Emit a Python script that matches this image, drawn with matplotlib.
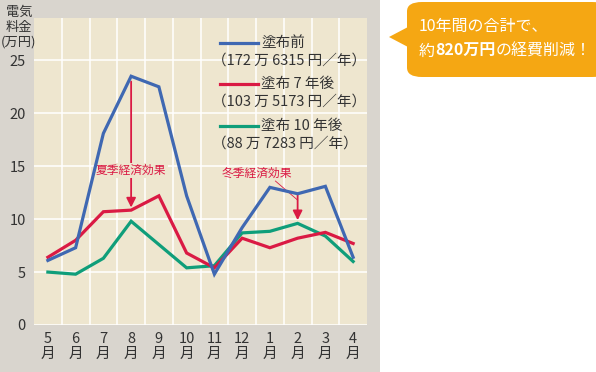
import matplotlib
matplotlib.use("Agg")
from matplotlib import pyplot as plt
from matplotlib.patches import Rectangle, FancyBboxPatch, Polygon
import numpy as np

plt.rcParams['font.family'] = ['Noto Sans CJK JP', 'DejaVu Sans']

months = ['5', '6', '7', '8', '9', '10', '11', '12', '1', '2', '3', '4']
before = [6.1, 7.3, 18.1, 23.5, 22.5, 12.2, 4.8, 9.2, 13.0, 12.4, 13.1, 6.4]
after7 = [6.4, 8.0, 10.7, 10.85, 12.2, 6.8, 5.4, 8.2, 7.3, 8.2, 8.75, 7.7]
after10 = [5.0, 4.8, 6.3, 9.8, 7.6, 5.4, 5.6, 8.7, 8.85, 9.6, 8.4, 6.0]
labels = ['塗布前', '塗布 7 年後', '塗布 10 年後']
sublabels = ['（172 万 6315 円／年）', '（103 万 5173 円／年）', '（88 万 7283 円／年）']

blue = '#3f68b2'
red = '#da1a44'
green = '#0f9e7a'
panel = '#d9d5ce'
plotbg = '#eee6cf'
txt = '#333333'

W, H = 596, 372
fig = plt.figure(figsize=(W / 100, H / 100), dpi=100)
fig.patch.set_facecolor('white')
fig.patches.append(Rectangle((0, 0), 380 / W, 1, transform=fig.transFigure,
                             facecolor=panel, edgecolor='none', zorder=-5))

ax = fig.add_axes([34 / W, (H - 325) / H, (367 - 34) / W, (325 - 18) / H])
ax.set_zorder(2)
ax.set_facecolor(plotbg)
x = np.arange(len(months))
ax.set_xlim(-0.5, len(months) - 0.5)
ax.set_ylim(0, 29)
for s in ax.spines.values():
    s.set_visible(False)

ax.set_yticks([0, 5, 10, 15, 20, 25])
ax.set_xticks(x)
ax.set_xticklabels([m + '\n月' for m in months], linespacing=1.05)
ax.set_xticks(x[:-1] + 0.5, minor=True)
ax.tick_params(axis='both', which='both', length=0, colors=txt, labelsize=10.5)
ax.tick_params(axis='y', pad=6)
ax.tick_params(axis='x', pad=5)
ax.grid(axis='y', which='major', color='white', lw=1.1)
ax.grid(axis='x', which='minor', color='white', lw=1.1)
ax.set_axisbelow(True)

for ys, c in [(after10, green), (after7, red), (before, blue)]:
    ax.plot(x, ys, color=c, lw=2.3, solid_joinstyle='miter', zorder=3)

# legend drawn by hand
leg_y = [26.6, 22.8, 18.8]
for ly, lab, sub, c in zip(leg_y, labels, sublabels, [blue, red, green]):
    ax.plot([6.22, 7.59], [ly, ly], color=c, lw=2.3, zorder=4)
    ax.text(7.68, ly, lab, fontsize=10.5, color=txt, va='center', ha='left')
    ax.text(5.93, ly - 1.65, sub, fontsize=10.5, color=txt, va='center', ha='left')

# summer effect
ax.annotate('', xy=(3, 11.1), xytext=(3, 23.0),
            arrowprops=dict(arrowstyle='-|>', color=red, lw=1.3,
                            mutation_scale=14, shrinkA=0, shrinkB=0), zorder=2)
ax.text(3, 14.6, '夏季経済効果', fontsize=8.5, color=red, ha='center', va='center',
        bbox=dict(facecolor=plotbg, edgecolor='none', pad=1.0), zorder=2.5)

# winter effect
ax.text(7.55, 14.35, '冬季経済効果', fontsize=8.5, color=red, ha='center', va='center', zorder=2.5)
ax.plot([8.2, 9.0], [13.6, 11.8], color=red, lw=0.6, zorder=2)
ax.annotate('', xy=(9, 9.9), xytext=(9, 12.4),
            arrowprops=dict(arrowstyle='-|>', color=red, lw=1.3,
                            mutation_scale=14, shrinkA=0, shrinkB=0), zorder=2)

# y axis title
fig.text(19 / W, 1 - 6 / H, '電気\n料金\n(万円)', fontsize=9.5, color=txt,
         ha='center', va='top', linespacing=1.2)

# callout
orange = '#f5a713'
fig.patches.append(FancyBboxPatch((407 / W, 1 - 77 / H), 200 / W, 75 / H,
                                  boxstyle='round,pad=0,rounding_size=0.025',
                                  transform=fig.transFigure, facecolor=orange,
                                  edgecolor='none', zorder=1))
fig.patches.append(Polygon([(389 / W, 1 - 37 / H), (408 / W, 1 - 27 / H), (408 / W, 1 - 47 / H)],
                           closed=True, transform=fig.transFigure,
                           facecolor=orange, edgecolor='none', zorder=1))
fig.text(419 / W, 1 - 26 / H, '10年間の合計で、', fontsize=11.5, color='white',
         ha='left', va='center')

fig.canvas.draw()
r = fig.canvas.get_renderer()
xpos = 419
for piece, wt in [('約', 'normal'), ('820万円', 'bold'), ('の経費削減！', 'normal')]:
    t = fig.text(xpos / W, 1 - 51 / H, piece, fontsize=11.5, color='white',
                 ha='left', va='center', fontweight=wt)
    xpos += t.get_window_extent(r).width

fig.savefig('out.png', dpi=100, facecolor=fig.get_facecolor())
